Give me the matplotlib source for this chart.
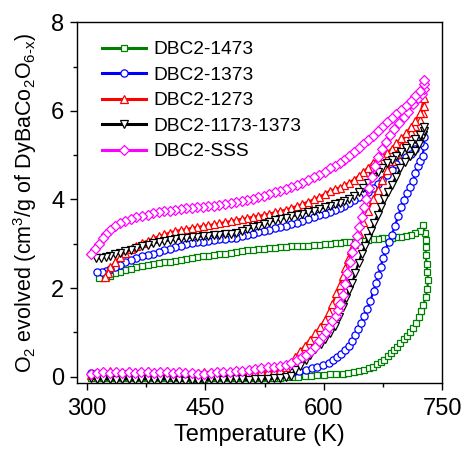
import matplotlib
matplotlib.use("Agg")
import matplotlib.pyplot as plt
from matplotlib.ticker import MultipleLocator

plt.rcParams['font.family'] = ['Liberation Sans', 'DejaVu Sans']
plt.rcParams['mathtext.default'] = 'regular'

labels = ['DBC2-1473', 'DBC2-1373', 'DBC2-1273', 'DBC2-1173-1373', 'DBC2-SSS']
colors = ['#008000', '#0000FF', '#FF0000', '#000000', '#FF00FF']
markers = ['s', 'o', '^', 'v', 'D']

# shared low-temperature part of the heating run
t_low = [305, 313, 321, 329, 337, 345, 353, 361, 369, 377, 385, 393, 401, 409, 417,
         425, 433, 441, 449, 457, 465, 473, 481, 489, 497, 505, 513, 521, 529, 537]

# shared temperatures of the upper (cooling) run
t_cool = [722, 716, 710, 704, 698, 692, 686, 680, 674, 668, 662, 656, 650, 644, 638,
          632, 626, 620, 614, 608, 601, 594, 587, 580, 573, 566, 559, 552, 545, 538,
          531, 524, 517, 510, 503, 496, 489, 482, 475, 468, 461, 454, 447, 440, 433,
          426, 419, 412, 405, 398, 391, 384, 377, 370, 363, 356, 349, 342, 336, 330]

# ---------------- DBC2-1473 (green) ----------------
g_low = [-0.02, -0.03, -0.04, -0.03, -0.04, -0.03, -0.04, -0.04, -0.03, -0.04, -0.03, -0.04, -0.04, -0.03, -0.04,
         -0.04, -0.05, -0.06, -0.05, -0.04, -0.04, -0.03, -0.04, -0.03, -0.04, -0.03, -0.03, -0.03, -0.02, -0.02]
g_rise_t = [545, 552, 560, 568, 576, 584, 592, 600, 608, 616, 624, 631, 638, 645, 651, 657, 662, 667, 672,
            676, 681, 685, 689, 693, 697, 701, 705, 709, 713, 717, 720, 723, 726, 729, 731, 732, 731, 730,
            729, 729, 729, 728, 726]
g_rise_v = [-0.02, -0.01, 0.0, 0.0, 0.01, 0.02, 0.03, 0.04, 0.05, 0.06, 0.07, 0.08, 0.10, 0.12, 0.15, 0.19,
            0.23, 0.28, 0.33, 0.38, 0.46, 0.54, 0.61, 0.68, 0.76, 0.84, 0.92, 1.00, 1.10, 1.22, 1.35, 1.48,
            1.62, 1.80, 1.98, 2.18, 2.36, 2.55, 2.74, 2.92, 3.08, 3.25, 3.42]
g_cool = [3.30, 3.24, 3.20, 3.18, 3.16, 3.15, 3.14, 3.13, 3.12, 3.11, 3.10, 3.08, 3.07, 3.06, 3.05,
          3.04, 3.03, 3.02, 3.01, 3.00, 2.99, 2.98, 2.97, 2.96, 2.95, 2.95, 2.94, 2.93, 2.92, 2.91,
          2.90, 2.89, 2.88, 2.87, 2.85, 2.84, 2.82, 2.80, 2.78, 2.77, 2.75, 2.73, 2.72, 2.70, 2.68,
          2.66, 2.64, 2.62, 2.60, 2.58, 2.56, 2.54, 2.52, 2.50, 2.47, 2.44, 2.41, 2.37, 2.33, 2.28]
g_end_t = [325, 320, 315]
g_end_v = [2.25, 2.23, 2.22]

# ---------------- DBC2-1373 (blue) ----------------
b_low = [0.08, 0.08, 0.06, 0.05, 0.06, 0.05, 0.04, 0.05, 0.06, 0.05, 0.04, 0.05, 0.05, 0.04, 0.05,
         0.06, 0.05, 0.04, 0.05, 0.05, 0.04, 0.05, 0.05, 0.04, 0.05, 0.05, 0.05, 0.05, 0.05, 0.06]
b_rise_t = [545, 553, 561, 569, 577, 585, 592, 599, 606, 612, 617, 622, 627, 632, 636, 640, 643, 647, 651,
            655, 659, 663, 666, 669, 672, 675, 678, 682, 686, 690, 694, 698, 701, 705, 709, 713, 716, 719,
            722, 725, 727, 727]
b_rise_v = [0.06, 0.08, 0.10, 0.13, 0.16, 0.20, 0.23, 0.27, 0.32, 0.38, 0.45, 0.52, 0.60, 0.70, 0.80, 0.95,
            1.08, 1.22, 1.36, 1.53, 1.72, 1.93, 2.12, 2.30, 2.48, 2.67, 2.86, 3.05, 3.20, 3.40, 3.62, 3.83,
            3.99, 4.15, 4.28, 4.42, 4.60, 4.76, 4.88, 4.98, 5.20, 5.41]
b_cool = [5.28, 5.15, 5.03, 4.96, 4.88, 4.79, 4.67, 4.56, 4.45, 4.35, 4.25, 4.18, 4.12, 4.06, 3.99,
          3.92, 3.86, 3.81, 3.76, 3.72, 3.68, 3.64, 3.60, 3.56, 3.52, 3.48, 3.44, 3.41, 3.38, 3.35,
          3.32, 3.29, 3.26, 3.23, 3.20, 3.17, 3.14, 3.12, 3.11, 3.10, 3.08, 3.07, 3.05, 3.03, 3.01,
          2.99, 2.96, 2.93, 2.89, 2.85, 2.82, 2.78, 2.75, 2.72, 2.68, 2.63, 2.58, 2.52, 2.47, 2.43]
b_end_t = [324, 319, 313]
b_end_v = [2.39, 2.37, 2.37]

# ---------------- DBC2-1273 (red) ----------------
r_low = [0.04, 0.08, 0.10, 0.12, 0.10, 0.11, 0.13, 0.10, 0.11, 0.12, 0.10, 0.11, 0.12, 0.10, 0.11,
         0.10, 0.09, 0.08, 0.10, 0.11, 0.10, 0.11, 0.10, 0.11, 0.10, 0.11, 0.10, 0.12, 0.13, 0.14]
r_rise_t = [545, 552, 559, 564, 570, 576, 582, 589, 595, 601, 606, 611, 616, 620, 624, 627, 631, 635, 638,
            644, 650, 656, 662, 668, 674, 680, 686, 692, 698, 704, 710, 716, 722, 726, 727, 727]
r_rise_v = [0.15, 0.22, 0.32, 0.45, 0.58, 0.70, 0.83, 0.98, 1.12, 1.28, 1.45, 1.65, 1.88, 2.07, 2.27, 2.45,
            2.65, 2.85, 3.00, 3.25, 3.50, 3.75, 4.00, 4.22, 4.45, 4.66, 4.86, 5.03, 5.20, 5.38, 5.53, 5.66,
            5.80, 5.95, 6.10, 6.28]
r_cool = [5.95, 5.78, 5.64, 5.50, 5.38, 5.27, 5.15, 5.05, 4.98, 4.90, 4.83, 4.72, 4.63, 4.53, 4.45,
          4.38, 4.32, 4.27, 4.23, 4.20, 4.12, 4.06, 4.00, 3.95, 3.90, 3.85, 3.81, 3.77, 3.74, 3.71,
          3.68, 3.65, 3.63, 3.61, 3.58, 3.56, 3.54, 3.51, 3.49, 3.46, 3.44, 3.42, 3.40, 3.38, 3.36,
          3.33, 3.31, 3.29, 3.25, 3.21, 3.17, 3.12, 3.07, 3.02, 2.95, 2.88, 2.79, 2.70, 2.59, 2.47]
r_end_t = [327, 323]
r_end_v = [2.34, 2.26]

# ---------------- DBC2-1173-1373 (black) ----------------
k_low = [-0.02, -0.05, -0.06, -0.05, -0.07, -0.06, -0.05, -0.08, -0.06, -0.05, -0.07, -0.06, -0.05, -0.06, -0.08,
         -0.09, -0.07, -0.10, -0.08, -0.06, -0.05, -0.07, -0.06, -0.05, -0.06, -0.07, -0.05, -0.06, -0.05, -0.04]
k_rise_t = [545, 552, 558, 564, 570, 577, 583, 589, 596, 602, 608, 614, 619, 624, 628, 632, 636, 640, 644,
            648, 652, 656, 660, 664, 668, 672, 676, 681, 686, 691, 697, 703, 709, 715, 721, 726, 727, 727]
k_rise_v = [-0.03, -0.01, 0.02, 0.15, 0.25, 0.38, 0.50, 0.62, 0.73, 0.85, 0.98, 1.15, 1.35, 1.58, 1.78, 1.95,
            2.12, 2.35, 2.57, 2.78, 2.95, 3.13, 3.30, 3.48, 3.65, 3.83, 4.00, 4.17, 4.33, 4.50, 4.70, 4.85,
            4.98, 5.10, 5.25, 5.45, 5.55, 5.64]
k_cool = [5.45, 5.36, 5.26, 5.17, 5.08, 4.99, 4.90, 4.82, 4.72, 4.62, 4.50, 4.38, 4.27, 4.17, 4.09,
          4.02, 3.97, 3.93, 3.89, 3.86, 3.82, 3.78, 3.74, 3.71, 3.68, 3.65, 3.62, 3.59, 3.56, 3.53,
          3.49, 3.45, 3.41, 3.37, 3.33, 3.29, 3.25, 3.23, 3.21, 3.20, 3.19, 3.18, 3.17, 3.16, 3.15,
          3.13, 3.12, 3.10, 3.08, 3.06, 3.04, 3.01, 2.98, 2.95, 2.91, 2.87, 2.83, 2.80, 2.76, 2.72]
k_end_t = [324, 318, 312]
k_end_v = [2.70, 2.68, 2.67]

# ---------------- DBC2-SSS (magenta) ----------------
m_low = [0.05, 0.09, 0.10, 0.09, 0.10, 0.09, 0.10, 0.09, 0.10, 0.10, 0.09, 0.10, 0.10, 0.09, 0.10,
         0.09, 0.08, 0.06, 0.05, 0.09, 0.10, 0.10, 0.11, 0.12, 0.14, 0.15, 0.17, 0.19, 0.21, 0.23]
m_rise_t = [545, 552, 559, 566, 572, 578, 584, 589, 594, 599, 603, 607, 611, 615, 618, 621, 624, 627, 630,
            633, 636, 639, 642, 645, 648, 651, 654, 657, 661, 665, 669, 674, 679, 684, 689, 695, 701, 707,
            713, 719, 724, 727, 727, 727]
m_rise_v = [0.25, 0.27, 0.31, 0.37, 0.44, 0.50, 0.58, 0.68, 0.80, 0.92, 1.02, 1.12, 1.25, 1.38, 1.50, 1.65,
            1.85, 2.10, 2.35, 2.60, 2.82, 3.00, 3.18, 3.38, 3.60, 3.82, 4.00, 4.25, 4.50, 4.75, 4.95, 5.15,
            5.30, 5.45, 5.58, 5.72, 5.87, 5.98, 6.15, 6.28, 6.39, 6.50, 6.60, 6.70]
m_cool = [6.45, 6.33, 6.22, 6.12, 6.03, 5.94, 5.84, 5.74, 5.64, 5.54, 5.44, 5.34, 5.25, 5.16, 5.07,
          4.98, 4.90, 4.83, 4.76, 4.70, 4.63, 4.56, 4.50, 4.44, 4.38, 4.33, 4.28, 4.24, 4.20, 4.16,
          4.12, 4.08, 4.05, 4.02, 3.99, 3.96, 3.94, 3.92, 3.90, 3.88, 3.86, 3.85, 3.84, 3.82, 3.81,
          3.80, 3.78, 3.77, 3.75, 3.73, 3.71, 3.69, 3.66, 3.63, 3.60, 3.56, 3.51, 3.46, 3.40, 3.32]
m_end_t = [325, 320, 315, 310, 306]
m_end_v = [3.23, 3.12, 3.00, 2.88, 2.78]

series = [
    (g_low, g_rise_t, g_rise_v, g_cool, g_end_t, g_end_v),
    (b_low, b_rise_t, b_rise_v, b_cool, b_end_t, b_end_v),
    (r_low, r_rise_t, r_rise_v, r_cool, r_end_t, r_end_v),
    (k_low, k_rise_t, k_rise_v, k_cool, k_end_t, k_end_v),
    (m_low, m_rise_t, m_rise_v, m_cool, m_end_t, m_end_v),
]

fig = plt.figure(figsize=(4.63, 4.5), dpi=100)
ax = fig.add_axes([0.1663, 0.1489, 0.789, 0.8016])

for (low, rt, rv, cool, et, ev), lab, c, mk in zip(series, labels, colors, markers):
    T = t_low + rt + t_cool + et
    V = low + rv + cool + ev
    ms = 4.6 if mk in ('s', 'D') else 5.2
    ax.plot(T, V, color=c, lw=1.6, marker=mk, ms=ms, mfc='white', mec=c, mew=0.9, label=lab)

ax.set_xlim(287.7, 750)
ax.set_ylim(-0.142, 8)
ax.xaxis.set_major_locator(MultipleLocator(150))
ax.xaxis.set_minor_locator(MultipleLocator(75))
ax.yaxis.set_major_locator(MultipleLocator(2))
ax.yaxis.set_minor_locator(MultipleLocator(1))
ax.tick_params(which='both', direction='out', top=False, right=False, width=1.0)
ax.tick_params(which='major', length=5, labelsize=17)
ax.tick_params(axis='x', which='major', pad=6)
ax.tick_params(axis='y', which='major', pad=4)
ax.tick_params(which='minor', length=3)
for sp in ax.spines.values():
    sp.set_linewidth(1.0)

ax.set_xlabel('Temperature (K)', fontsize=17, labelpad=3)
ax.set_ylabel('O$_2$ evolved (cm$^3$/g of DyBaCo$_2$O$_{6\u2010x}$)', fontsize=15.5, labelpad=9)

leg = ax.legend(loc='upper left', bbox_to_anchor=(0.037, 0.98), frameon=False, fontsize=13.8,
                handlelength=2.3, handletextpad=0.4, labelspacing=0.42, borderaxespad=0.2)
for h in leg.get_lines():
    h.set_linewidth(2.2)

fig.savefig('out.png', dpi=100)
